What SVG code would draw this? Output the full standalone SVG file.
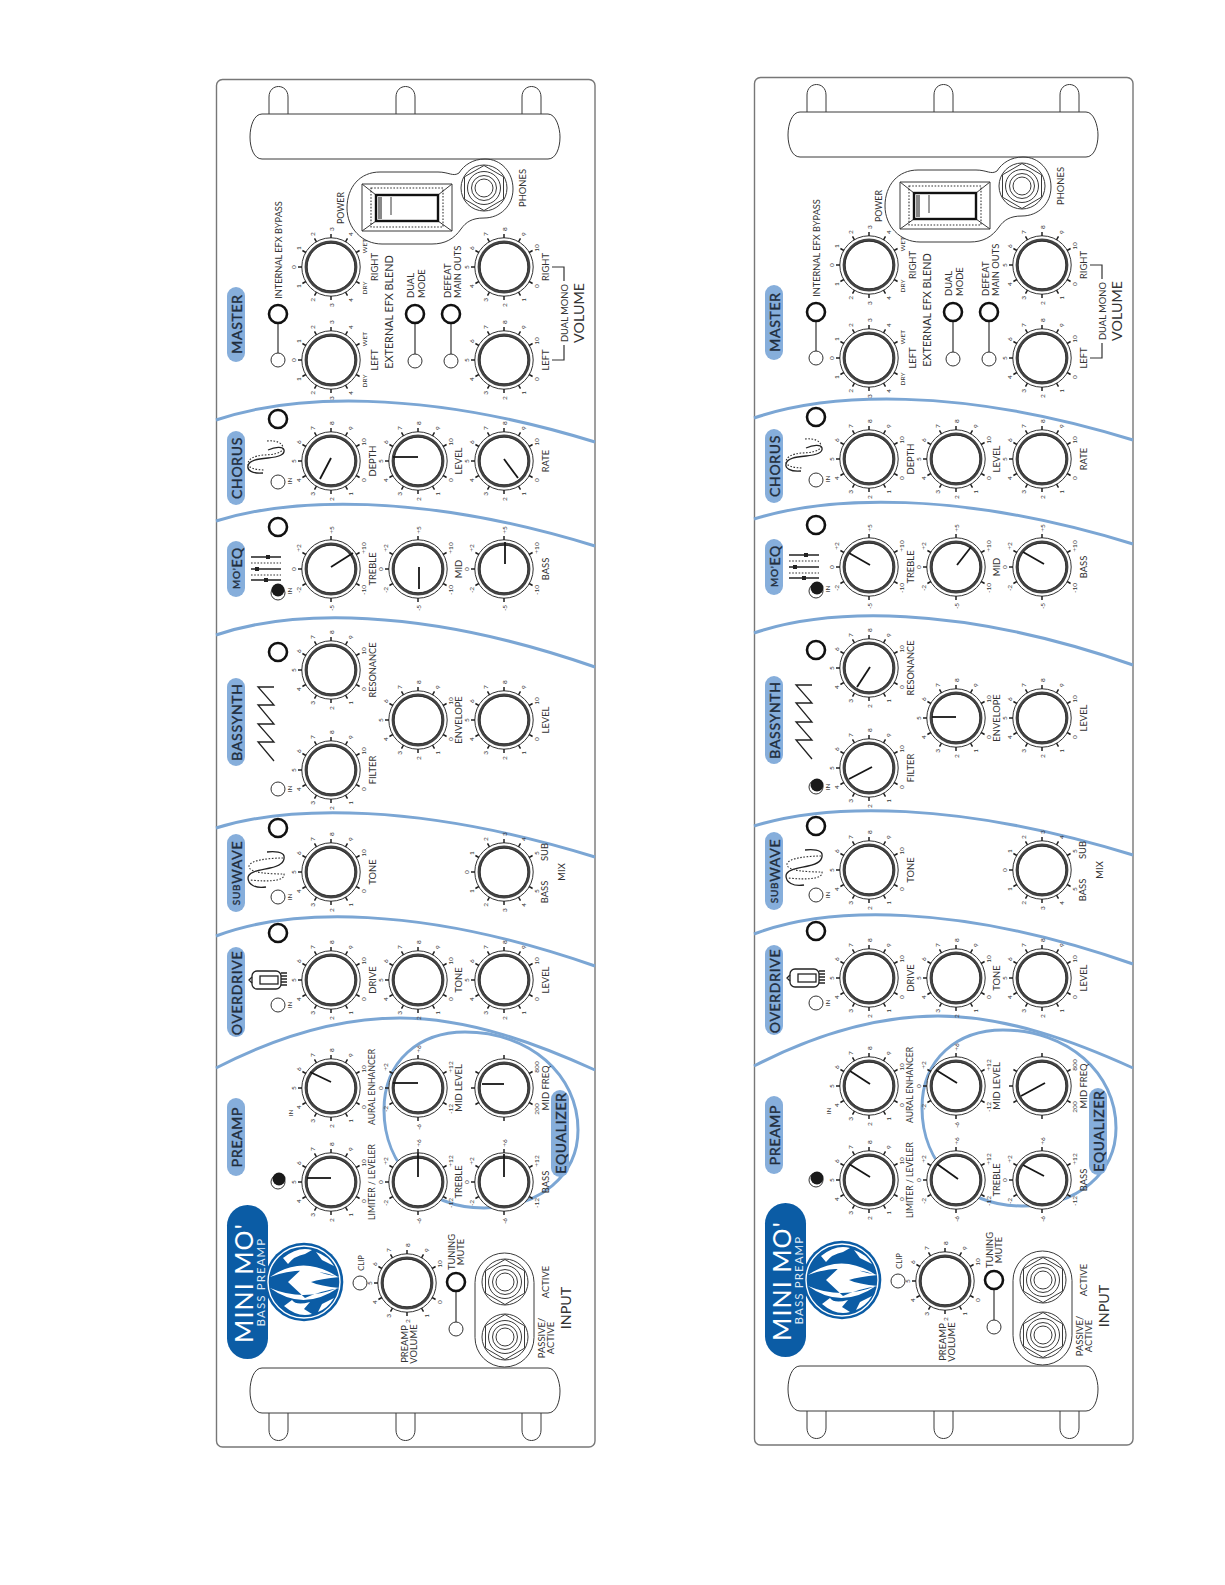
<svg xmlns="http://www.w3.org/2000/svg" width="1225" height="1585" viewBox="0 0 1225 1585">
<style>
text{font-family:"Lato","Open Sans","Liberation Sans",sans-serif;fill:#333;text-anchor:middle;dominant-baseline:central}
.n{font-size:9.4px}.m{font-size:9.2px}.m2{font-size:8.6px}.k{font-size:8.8px}.s{font-size:6.5px}.v{font-size:14.3px}.b{font-size:10.8px}
.p{font-size:14px;fill:#1f2d3d;stroke:#1f2d3d;stroke-width:.35px;letter-spacing:.7px}.q{font-size:10px;fill:#1f2d3d}
.x{font-size:25px;fill:#fff;letter-spacing:1.1px}.y{font-size:11.5px;fill:#dfe9f4;letter-spacing:1.1px}
.o{fill:none;stroke:#3a3a3a;stroke-width:1}
.pill{fill:#86aedb}
.arc{fill:none;stroke:#7ba6d4;stroke-width:3}
.led{fill:#fff;stroke:#333;stroke-width:1}
.ring{fill:#fff;stroke:#111;stroke-width:2.6}
.link{fill:none;stroke:#333;stroke-width:1.2}
.on{fill:#1a1a1a;stroke:none}
.ptr{stroke:#161616;stroke-width:1.8;stroke-linecap:butt}
.tick{fill:none;stroke:#222;stroke-width:1.5}
.icon{fill:none;stroke:#222;stroke-width:1.3}
.dash{fill:none;stroke:#333;stroke-width:1.1;stroke-dasharray:1.6 1.6}
</style>
<defs>
<g id="dial"><circle r="29.2" fill="#fff" stroke="#333" stroke-width="1"/><circle r="25" fill="#fff" stroke="#444" stroke-width="2.8"/><circle r="23.8" fill="none" stroke="#222" stroke-width=".8"/></g>
<g id="t11"><use href="#dial"/><path class="tick" d="M25.1-14.5L28.6-16.5M14.5-25.1L16.5-28.6M0-29V-33M-14.5-25.1L-16.5-28.6M-25.1-14.5L-28.6-16.5M-29 0H-33M-25.1 14.5L-28.6 16.5M-14.5 25.1L-16.5 28.6M0 29V33M14.5 25.1L16.5 28.6M25.1 14.5L28.6 16.5"/></g>
<g id="t7"><use href="#dial"/><path class="tick" d="M25.1-14.5L28.6-16.5M0-29V-33M-25.1-14.5L-28.6-16.5M-29 0H-33M-25.1 14.5L-28.6 16.5M0 29V33M25.1 14.5L28.6 16.5"/></g>
<g id="d10"><use href="#t11"/>
<text class="s" transform="translate(32.9 19) rotate(-90)">0</text><text class="s" transform="translate(19 32.9) rotate(-90)">1</text><text class="s" transform="translate(0 38) rotate(-90)">2</text><text class="s" transform="translate(-19 32.9) rotate(-90)">3</text><text class="s" transform="translate(-32.9 19) rotate(-90)">4</text><text class="s" transform="translate(-38 0) rotate(-90)">5</text><text class="s" transform="translate(-32.9 -19) rotate(-90)">6</text><text class="s" transform="translate(-19 -32.9) rotate(-90)">7</text><text class="s" transform="translate(0 -38) rotate(-90)">8</text><text class="s" transform="translate(19 -32.9) rotate(-90)">9</text><text class="s" transform="translate(32.9 -19) rotate(-90)">10</text></g>
<g id="dBlend"><use href="#t11"/>
<text class="s" transform="translate(33 21) rotate(-90)">DRY</text><text class="s" transform="translate(19 32.9) rotate(-90)">4</text><text class="s" transform="translate(0 38) rotate(-90)">3</text><text class="s" transform="translate(-19 32.9) rotate(-90)">2</text><text class="s" transform="translate(-32.9 19) rotate(-90)">1</text><text class="s" transform="translate(-38 0) rotate(-90)">0</text><text class="s" transform="translate(-32.9 -19) rotate(-90)">1</text><text class="s" transform="translate(-19 -32.9) rotate(-90)">2</text><text class="s" transform="translate(0 -38) rotate(-90)">3</text><text class="s" transform="translate(19 -32.9) rotate(-90)">4</text><text class="s" transform="translate(33 -21) rotate(-90)">WET</text></g>
<g id="dMix"><use href="#t11"/>
<text class="s" transform="translate(32.9 19) rotate(-90)">5</text><text class="s" transform="translate(19 32.9) rotate(-90)">4</text><text class="s" transform="translate(0 38) rotate(-90)">3</text><text class="s" transform="translate(-19 32.9) rotate(-90)">2</text><text class="s" transform="translate(-32.9 19) rotate(-90)">1</text><text class="s" transform="translate(-38 0) rotate(-90)">0</text><text class="s" transform="translate(-32.9 -19) rotate(-90)">1</text><text class="s" transform="translate(-19 -32.9) rotate(-90)">2</text><text class="s" transform="translate(0 -38) rotate(-90)">3</text><text class="s" transform="translate(19 -32.9) rotate(-90)">4</text><text class="s" transform="translate(32.9 -19) rotate(-90)">5</text></g>
<g id="dEq5"><use href="#t7"/>
<text class="s" transform="translate(32.9 21) rotate(-90)">-10</text><text class="s" transform="translate(0 39) rotate(-90)">-5</text><text class="s" transform="translate(-32.9 21) rotate(-90)">-2</text><text class="s" transform="translate(-38 0) rotate(-90)">0</text><text class="s" transform="translate(-32.9 -21) rotate(-90)">+2</text><text class="s" transform="translate(0 -39) rotate(-90)">+5</text><text class="s" transform="translate(32.9 -21) rotate(-90)">+10</text></g>
<g id="dEq12"><use href="#t7"/>
<text class="s" transform="translate(32.9 21) rotate(-90)">-12</text><text class="s" transform="translate(0 39) rotate(-90)">-6</text><text class="s" transform="translate(-32.9 21) rotate(-90)">-2</text><text class="s" transform="translate(-38 0) rotate(-90)">0</text><text class="s" transform="translate(-32.9 -21) rotate(-90)">+2</text><text class="s" transform="translate(0 -39) rotate(-90)">+6</text><text class="s" transform="translate(32.9 -21) rotate(-90)">+12</text></g>
<g id="dFreq"><use href="#t7"/><text class="s" transform="translate(32.9 21) rotate(-90)">200</text><text class="s" transform="translate(32.9 -21) rotate(-90)">800</text></g>
<g id="jack"><circle class="o" r="23"/><polygon class="o" points="0,-22.5 19.5,-11.2 19.5,11.2 0,22.5 -19.5,11.2 -19.5,-11.2"/><circle class="o" r="16.5"/><circle class="o" r="12.5"/><circle class="o" r="9"/></g>
<g id="sw"><path class="o" stroke-width="1.3" d="M362 184H452V231H362ZM362 184L376 195M452 184L438 195M362 231L376 221M452 231L438 221"/><rect x="371" y="188" width="72" height="39" class="dash"/><rect x="376" y="195" width="62" height="26" fill="#fff" stroke="#111" stroke-width="2.4"/><rect x="378" y="197" width="4" height="22" fill="#888"/><path class="o" d="M391 197V215"/></g>
<g id="logo"><circle cx="304" cy="1282" r="39.3" fill="#0b5ca5"/><circle cx="304" cy="1282" r="36" fill="none" stroke="#fff" stroke-width="1.4"/>
<path fill="#fff" d="M270 1277Q303 1254 338 1277Q303 1264 270 1277ZM270 1288Q303 1312 338 1288Q303 1302 270 1288ZM288 1282L305 1266Q320 1274 340 1277Q320 1279 311 1282Q320 1286 340 1288Q320 1291 305 1298ZM283 1258Q298 1246 312 1250L305 1254Q294 1256 288 1264ZM316 1252Q328 1256 334 1266L322 1260ZM284 1306Q298 1318 312 1314L304 1309L310 1302Q296 1306 292 1300ZM318 1312Q328 1308 334 1298L322 1304Z"/></g>
<g id="chassis">
<rect x="216.5" y="79.5" width="378.5" height="1367.5" rx="6" fill="#fff" stroke="#777" stroke-width="1.4"/>
<path class="o" d="M269 114V97C269 83 288 83 288 97V114M396 114V97C396 83 415 83 415 97V114M522 114V97C522 83 541 83 541 97V114"/>
<path class="o" stroke-width="1.1" d="M262 114H548C556 114 560 128 560 137C560 148 556 159 548 159H262C254 159 250 148 250 137C250 126 254 114 262 114Z"/>
<path class="o" d="M269 1413V1430C269 1444 288 1444 288 1430V1413M396 1413V1430C396 1444 415 1444 415 1430V1413M522 1413V1430C522 1444 541 1444 541 1430V1413"/>
<path class="o" stroke-width="1.1" d="M262 1368H548C556 1368 560 1382 560 1391C560 1402 556 1413 548 1413H262C254 1413 250 1402 250 1391C250 1380 254 1368 262 1368Z"/>
<path class="o" d="M380 172H438C449 172 453 177 459 173C464 165 473 159 485 159C501 159 513 172 513 189C513 206 500 218 484 218C472 218 466 222 461 229C454 239 445 244 432 244H382C362 244 347 228 347 208C347 187 360 172 380 172Z"/>
<use href="#sw"/><use href="#jack" x="484" y="188"/>
<rect class="o" x="475" y="1253" width="59" height="114" rx="29.5"/><use href="#jack" x="505" y="1282"/><use href="#jack" x="505" y="1337"/>
<path class="arc" d="M216 420C290 395 420 388 595 442"/>
<path class="arc" d="M216 521C290 498 420 492 595 546"/>
<path class="arc" d="M216 635C290 610 420 606 595 667"/>
<path class="arc" d="M216 828C290 805 420 803 595 857"/>
<path class="arc" d="M216 936C290 908 420 905 595 966"/>
<path class="arc" d="M216 1068C280 1035 340 1018 400 1018C470 1018 540 1045 595 1070"/>
<path class="arc" d="M384 1110C384 1060 420 1032 465 1032C530 1032 578 1075 578 1130C578 1175 540 1208 484 1208C425 1208 384 1165 384 1110Z"/>
<path class="link" d="M564 281V267H552M564 345V360H552"/>
<rect class="pill" x="227" y="287" width="18" height="75" rx="9"/><rect class="pill" x="227" y="431" width="18" height="74" rx="9"/><rect class="pill" x="227" y="541" width="18" height="56" rx="9"/><rect class="pill" x="227" y="678" width="18" height="88" rx="9"/><rect class="pill" x="227" y="834" width="18" height="78" rx="9"/><rect class="pill" x="227" y="947" width="18" height="90" rx="9"/><rect class="pill" x="227" y="1098" width="18" height="78" rx="9"/><rect class="pill" x="551" y="1090" width="18" height="87" rx="9"/>
<rect x="227" y="1205" width="41" height="154" rx="20.5" fill="#0b5ca5"/><use href="#logo"/>
<path class="icon" d="M263 473C252 474 247 470 248 466C249 460 258 459 268 458C278 457 285 455 284 450C283 446 275 447 268 450"/><path class="dash" d="M267 441C276 440 283 443 283 448C283 453 272 455 263 455C254 456 248 459 248 464C248 468 256 470 265 470"/>
<path class="icon" d="M251 557H281M251 569H281M251 580H281"/><path class="dash" d="M251 563H281M251 575H281"/><path fill="#222" d="M266 555h4v4h-4zM255 567h4v4h-4zM264 578h4v4h-4z"/>
<path class="icon" d="M274 687H258L274 705H258L274 724H258L274 742H258L274 761"/>
<path class="icon" d="M266 887C255 889 248 884 248 878C248 871 262 870 270 868C280 866 285 862 284 856C283 852 275 851 267 852"/><path class="dash" d="M283 858C270 858 250 860 249 866C248 873 270 874 284 874C285 881 270 882 250 880"/>
<rect class="icon" x="252" y="971" width="29" height="18" rx="5"/><rect class="icon" x="260" y="976" width="18" height="8"/><path class="icon" d="M252 977L249 980L252 983M281 973H287M281 976H287M281 979H287M281 982H287M281 985H287"/>
</g>
</defs>
<g id="panel-left">
<use href="#chassis"/>
<g id="L-master">
<text class="p" transform="translate(236 324) rotate(-90)">MASTER</text>
<text class="m" transform="translate(278 250) rotate(-90)">INTERNAL EFX BYPASS</text>
<path class="link" d="M278 314V360M415 314V361M451 314V361"/>
<circle class="ring" cx="278" cy="314" r="9"/><circle class="led" cx="278" cy="360" r="7"/>
<circle class="ring" cx="415" cy="314" r="9"/><circle class="led" cx="415" cy="361" r="7"/>
<circle class="ring" cx="451" cy="314" r="9"/><circle class="led" cx="451" cy="361" r="7"/>
<text class="k" transform="translate(340 208) rotate(-90)">POWER</text><text class="n" transform="translate(522 188) rotate(-90)">PHONES</text>
<text class="n" style="text-anchor:start" transform="translate(410 298) rotate(-90)">DUAL</text><text class="n" style="text-anchor:start" transform="translate(421 298) rotate(-90)">MODE</text>
<text class="n" style="text-anchor:start" transform="translate(447 298) rotate(-90)">DEFEAT</text><text class="n" style="text-anchor:start" transform="translate(457 298) rotate(-90)">MAIN OUTS</text>
<text class="b" transform="translate(388 312) rotate(-90)">EXTERNAL EFX BLEND</text>
<text class="n" transform="translate(564 313) rotate(-90)">DUAL MONO</text><text class="v" transform="translate(578 313) rotate(-90)">VOLUME</text>
</g>
<g id="L-blend-left"><use href="#dBlend" x="331" y="360"/><text class="n" transform="translate(374 360) rotate(-90)">LEFT</text></g>
<g id="L-blend-right"><use href="#dBlend" x="331" y="267"/><text class="n" transform="translate(374 267) rotate(-90)">RIGHT</text></g>
<g id="L-vol-left"><use href="#d10" x="504" y="360"/><text class="n" transform="translate(545 360) rotate(-90)">LEFT</text></g>
<g id="L-vol-right"><use href="#d10" x="504" y="267"/><text class="n" transform="translate(545 267) rotate(-90)">RIGHT</text></g>
<g id="L-chorus">
<text class="p" transform="translate(236 468) rotate(-90)">CHORUS</text><circle class="ring" cx="278" cy="419" r="9"/><circle class="led" cx="278" cy="482" r="7"/><text class="s" transform="translate(289 481) rotate(-90)">IN</text>
<use href="#d10" x="331" y="461"/><text class="n" transform="translate(372 461) rotate(-90)">DEPTH</text><line class="ptr" x1="331" y1="458" x2="320" y2="479"/>
<use href="#d10" x="418" y="461"/><text class="n" transform="translate(458 461) rotate(-90)">LEVEL</text><line class="ptr" x1="418" y1="457" x2="393" y2="457"/>
<use href="#d10" x="504" y="461"/><text class="n" transform="translate(545 461) rotate(-90)">RATE</text><line class="ptr" x1="504" y1="459" x2="518" y2="478"/>
</g>
<g id="L-eq">
<text class="p" transform="translate(236 568) rotate(-90)"><tspan class="q">MO'</tspan>EQ</text><circle class="ring" cx="278" cy="527" r="9"/><circle class="led" cx="278" cy="593" r="7"/><circle class="on" cx="278" cy="590" r="6.5"/><text class="s" transform="translate(289 591) rotate(-90)">IN</text>
<use href="#dEq5" x="331" y="569"/><text class="n" transform="translate(372 569) rotate(-90)">TREBLE</text><line class="ptr" x1="331" y1="567" x2="353" y2="553"/>
<use href="#dEq5" x="418" y="569"/><text class="n" transform="translate(458 569) rotate(-90)">MID</text><line class="ptr" x1="419" y1="567" x2="419" y2="589"/>
<use href="#dEq5" x="504" y="569"/><text class="n" transform="translate(545 569) rotate(-90)">BASS</text><line class="ptr" x1="505" y1="564" x2="505" y2="542"/>
</g>
<g id="L-bassynth">
<text class="p" transform="translate(236 722) rotate(-90)">BASSYNTH</text><circle class="ring" cx="278" cy="652" r="9"/><circle class="led" cx="278" cy="789" r="7"/><text class="s" transform="translate(289 789) rotate(-90)">IN</text>
<use href="#d10" x="331" y="670"/><text class="m" transform="translate(372 670) rotate(-90)">RESONANCE</text>
<use href="#d10" x="331" y="770"/><text class="n" transform="translate(372 770) rotate(-90)">FILTER</text>
<use href="#d10" x="418" y="720"/><text class="n" transform="translate(458 720) rotate(-90)">ENVELOPE</text>
<use href="#d10" x="504" y="720"/><text class="n" transform="translate(545 720) rotate(-90)">LEVEL</text>
</g>
<g id="L-subwave">
<text class="p" transform="translate(236 873) rotate(-90)"><tspan class="q">SUB</tspan>WAVE</text><circle class="ring" cx="278" cy="828" r="9"/><circle class="led" cx="278" cy="897" r="7"/><text class="s" transform="translate(289 897) rotate(-90)">IN</text>
<use href="#d10" x="331" y="872"/><text class="n" transform="translate(372 872) rotate(-90)">TONE</text>
<use href="#dMix" x="504" y="872"/><text class="n" transform="translate(544 852) rotate(-90)">SUB</text><text class="n" transform="translate(544 892) rotate(-90)">BASS</text><text class="n" transform="translate(561 872) rotate(-90)">MIX</text>
</g>
<g id="L-overdrive">
<text class="p" transform="translate(236 993) rotate(-90)">OVERDRIVE</text><circle class="ring" cx="278" cy="933" r="9"/><circle class="led" cx="278" cy="1005" r="7"/><text class="s" transform="translate(289 1005) rotate(-90)">IN</text>
<use href="#d10" x="331" y="980"/><text class="n" transform="translate(372 980) rotate(-90)">DRIVE</text>
<use href="#d10" x="418" y="980"/><text class="n" transform="translate(458 980) rotate(-90)">TONE</text>
<use href="#d10" x="504" y="980"/><text class="n" transform="translate(545 980) rotate(-90)">LEVEL</text>
</g>
<g id="L-preamp">
<text class="p" transform="translate(236 1137) rotate(-90)">PREAMP</text><circle class="led" cx="278" cy="1182" r="7"/><circle class="on" cx="279" cy="1179" r="6.5"/><text class="s" transform="translate(290 1113) rotate(-90)">IN</text>
<use href="#d10" x="331" y="1088"/><text class="m2" transform="translate(372 1087) rotate(-90)">AURAL ENHANCER</text><line class="ptr" x1="331" y1="1082" x2="310" y2="1072"/>
<use href="#dEq12" x="418" y="1088"/><text class="n" transform="translate(458 1088) rotate(-90)">MID LEVEL</text><line class="ptr" x1="418" y1="1083" x2="393" y2="1083"/>
<use href="#dFreq" x="504" y="1088"/><text class="n" transform="translate(545 1088) rotate(-90)">MID FREQ</text><line class="ptr" x1="504" y1="1084" x2="482" y2="1084"/>
<use href="#d10" x="331" y="1182"/><text class="m2" transform="translate(372 1182) rotate(-90)">LIMITER / LEVELER</text><line class="ptr" x1="331" y1="1178" x2="307" y2="1178"/>
<use href="#dEq12" x="418" y="1182"/><text class="n" transform="translate(458 1182) rotate(-90)">TREBLE</text><line class="ptr" x1="418" y1="1177" x2="418" y2="1153"/>
<use href="#dEq12" x="504" y="1182"/><text class="n" transform="translate(545 1182) rotate(-90)">BASS</text><line class="ptr" x1="504" y1="1177" x2="504" y2="1154"/>
<text class="p" transform="translate(560 1133) rotate(-90)">EQUALIZER</text>
</g>
<g id="L-input">
<text class="x" transform="translate(243 1283) rotate(-90)">MINI MO'</text><text class="y" transform="translate(260 1282) rotate(-90)">BASS PREAMP</text>
<circle class="led" cx="360" cy="1283" r="7"/><text class="s" style="font-size:7.5px" transform="translate(361 1263) rotate(-90)">CLIP</text>
<use href="#d10" x="407" y="1283"/><text class="n" transform="translate(404 1344) rotate(-90)">PREAMP</text><text class="n" transform="translate(413 1344) rotate(-90)">VOLUME</text>
<path class="link" d="M456 1282V1329"/><circle class="ring" cx="456" cy="1282" r="9"/><circle class="led" cx="456" cy="1329" r="7"/>
<text class="n" transform="translate(451 1252) rotate(-90)">TUNING</text><text class="n" transform="translate(460 1252) rotate(-90)">MUTE</text>
<text class="n" transform="translate(545 1282) rotate(-90)">ACTIVE</text><text class="n" transform="translate(541 1338) rotate(-90)">PASSIVE/</text><text class="n" transform="translate(550 1338) rotate(-90)">ACTIVE</text>
<text class="v" transform="translate(565 1308) rotate(-90)">INPUT</text>
</g>
</g>
<g id="panel-right" transform="translate(538 -2)">
<use href="#chassis"/>
<g id="R-master">
<text class="p" transform="translate(236 324) rotate(-90)">MASTER</text>
<text class="m" transform="translate(278 250) rotate(-90)">INTERNAL EFX BYPASS</text>
<path class="link" d="M278 314V360M415 314V361M451 314V361"/>
<circle class="ring" cx="278" cy="314" r="9"/><circle class="led" cx="278" cy="360" r="7"/>
<circle class="ring" cx="415" cy="314" r="9"/><circle class="led" cx="415" cy="361" r="7"/>
<circle class="ring" cx="451" cy="314" r="9"/><circle class="led" cx="451" cy="361" r="7"/>
<text class="k" transform="translate(340 208) rotate(-90)">POWER</text><text class="n" transform="translate(522 188) rotate(-90)">PHONES</text>
<text class="n" style="text-anchor:start" transform="translate(410 298) rotate(-90)">DUAL</text><text class="n" style="text-anchor:start" transform="translate(421 298) rotate(-90)">MODE</text>
<text class="n" style="text-anchor:start" transform="translate(447 298) rotate(-90)">DEFEAT</text><text class="n" style="text-anchor:start" transform="translate(457 298) rotate(-90)">MAIN OUTS</text>
<text class="b" transform="translate(388 312) rotate(-90)">EXTERNAL EFX BLEND</text>
<text class="n" transform="translate(564 313) rotate(-90)">DUAL MONO</text><text class="v" transform="translate(578 313) rotate(-90)">VOLUME</text>
</g>
<g id="R-blend-left"><use href="#dBlend" x="331" y="360"/><text class="n" transform="translate(374 360) rotate(-90)">LEFT</text></g>
<g id="R-blend-right"><use href="#dBlend" x="331" y="267"/><text class="n" transform="translate(374 267) rotate(-90)">RIGHT</text></g>
<g id="R-vol-left"><use href="#d10" x="504" y="360"/><text class="n" transform="translate(545 360) rotate(-90)">LEFT</text></g>
<g id="R-vol-right"><use href="#d10" x="504" y="267"/><text class="n" transform="translate(545 267) rotate(-90)">RIGHT</text></g>
<g id="R-chorus">
<text class="p" transform="translate(236 468) rotate(-90)">CHORUS</text><circle class="ring" cx="278" cy="419" r="9"/><circle class="led" cx="278" cy="482" r="7"/><text class="s" transform="translate(289 481) rotate(-90)">IN</text>
<use href="#d10" x="331" y="461"/><text class="n" transform="translate(372 461) rotate(-90)">DEPTH</text>
<use href="#d10" x="418" y="461"/><text class="n" transform="translate(458 461) rotate(-90)">LEVEL</text>
<use href="#d10" x="504" y="461"/><text class="n" transform="translate(545 461) rotate(-90)">RATE</text>
</g>
<g id="R-eq">
<text class="p" transform="translate(236 568) rotate(-90)"><tspan class="q">MO'</tspan>EQ</text><circle class="ring" cx="278" cy="527" r="9"/><circle class="led" cx="278" cy="593" r="7"/><circle class="on" cx="279" cy="590" r="6.5"/><text class="s" transform="translate(289 591) rotate(-90)">IN</text>
<use href="#dEq5" x="331" y="569"/><text class="n" transform="translate(372 569) rotate(-90)">TREBLE</text><line class="ptr" x1="332" y1="567" x2="311" y2="555"/>
<use href="#dEq5" x="418" y="569"/><text class="n" transform="translate(458 569) rotate(-90)">MID</text><line class="ptr" x1="419" y1="567" x2="433" y2="549"/>
<use href="#dEq5" x="504" y="569"/><text class="n" transform="translate(545 569) rotate(-90)">BASS</text><line class="ptr" x1="506" y1="566" x2="485" y2="554"/>
</g>
<g id="R-bassynth">
<text class="p" transform="translate(236 722) rotate(-90)">BASSYNTH</text><circle class="ring" cx="278" cy="652" r="9"/><circle class="led" cx="278" cy="789" r="7"/><circle class="on" cx="279" cy="787" r="6.5"/><text class="s" transform="translate(289 789) rotate(-90)">IN</text>
<use href="#d10" x="331" y="670"/><text class="m" transform="translate(372 670) rotate(-90)">RESONANCE</text><line class="ptr" x1="332" y1="669" x2="319" y2="689"/>
<use href="#d10" x="331" y="770"/><text class="n" transform="translate(372 770) rotate(-90)">FILTER</text><line class="ptr" x1="334" y1="769" x2="311" y2="781"/>
<use href="#d10" x="418" y="720"/><text class="n" transform="translate(458 720) rotate(-90)">ENVELOPE</text><line class="ptr" x1="418" y1="719" x2="394" y2="719"/>
<use href="#d10" x="504" y="720"/><text class="n" transform="translate(545 720) rotate(-90)">LEVEL</text>
</g>
<g id="R-subwave">
<text class="p" transform="translate(236 873) rotate(-90)"><tspan class="q">SUB</tspan>WAVE</text><circle class="ring" cx="278" cy="828" r="9"/><circle class="led" cx="278" cy="897" r="7"/><text class="s" transform="translate(289 897) rotate(-90)">IN</text>
<use href="#d10" x="331" y="872"/><text class="n" transform="translate(372 872) rotate(-90)">TONE</text>
<use href="#dMix" x="504" y="872"/><text class="n" transform="translate(544 852) rotate(-90)">SUB</text><text class="n" transform="translate(544 892) rotate(-90)">BASS</text><text class="n" transform="translate(561 872) rotate(-90)">MIX</text>
</g>
<g id="R-overdrive">
<text class="p" transform="translate(236 993) rotate(-90)">OVERDRIVE</text><circle class="ring" cx="278" cy="933" r="9"/><circle class="led" cx="278" cy="1005" r="7"/><text class="s" transform="translate(289 1005) rotate(-90)">IN</text>
<use href="#d10" x="331" y="980"/><text class="n" transform="translate(372 980) rotate(-90)">DRIVE</text>
<use href="#d10" x="418" y="980"/><text class="n" transform="translate(458 980) rotate(-90)">TONE</text>
<use href="#d10" x="504" y="980"/><text class="n" transform="translate(545 980) rotate(-90)">LEVEL</text>
</g>
<g id="R-preamp">
<text class="p" transform="translate(236 1137) rotate(-90)">PREAMP</text><circle class="led" cx="278" cy="1182" r="7"/><circle class="on" cx="279" cy="1180" r="6.5"/><text class="s" transform="translate(290 1113) rotate(-90)">IN</text>
<use href="#d10" x="331" y="1088"/><text class="m2" transform="translate(372 1087) rotate(-90)">AURAL ENHANCER</text><line class="ptr" x1="332" y1="1086" x2="312" y2="1073"/>
<use href="#dEq12" x="418" y="1088"/><text class="n" transform="translate(458 1088) rotate(-90)">MID LEVEL</text><line class="ptr" x1="419" y1="1085" x2="398" y2="1072"/>
<use href="#dFreq" x="504" y="1088"/><text class="n" transform="translate(545 1088) rotate(-90)">MID FREQ</text><line class="ptr" x1="507" y1="1085" x2="483" y2="1098"/>
<use href="#d10" x="331" y="1182"/><text class="m2" transform="translate(372 1182) rotate(-90)">LIMITER / LEVELER</text><line class="ptr" x1="332" y1="1179" x2="311" y2="1166"/>
<use href="#dEq12" x="418" y="1182"/><text class="n" transform="translate(458 1182) rotate(-90)">TREBLE</text><line class="ptr" x1="420" y1="1181" x2="399" y2="1166"/>
<use href="#dEq12" x="504" y="1182"/><text class="n" transform="translate(545 1182) rotate(-90)">BASS</text><line class="ptr" x1="506" y1="1178" x2="485" y2="1167"/>
<text class="p" transform="translate(560 1133) rotate(-90)">EQUALIZER</text>
</g>
<g id="R-input">
<text class="x" transform="translate(243 1283) rotate(-90)">MINI MO'</text><text class="y" transform="translate(260 1282) rotate(-90)">BASS PREAMP</text>
<circle class="led" cx="360" cy="1283" r="7"/><text class="s" style="font-size:7.5px" transform="translate(361 1263) rotate(-90)">CLIP</text>
<use href="#d10" x="407" y="1283"/><text class="n" transform="translate(404 1344) rotate(-90)">PREAMP</text><text class="n" transform="translate(413 1344) rotate(-90)">VOLUME</text>
<path class="link" d="M456 1282V1329"/><circle class="ring" cx="456" cy="1282" r="9"/><circle class="led" cx="456" cy="1329" r="7"/>
<text class="n" transform="translate(451 1252) rotate(-90)">TUNING</text><text class="n" transform="translate(460 1252) rotate(-90)">MUTE</text>
<text class="n" transform="translate(545 1282) rotate(-90)">ACTIVE</text><text class="n" transform="translate(541 1338) rotate(-90)">PASSIVE/</text><text class="n" transform="translate(550 1338) rotate(-90)">ACTIVE</text>
<text class="v" transform="translate(565 1308) rotate(-90)">INPUT</text>
</g>
</g>
</svg>
